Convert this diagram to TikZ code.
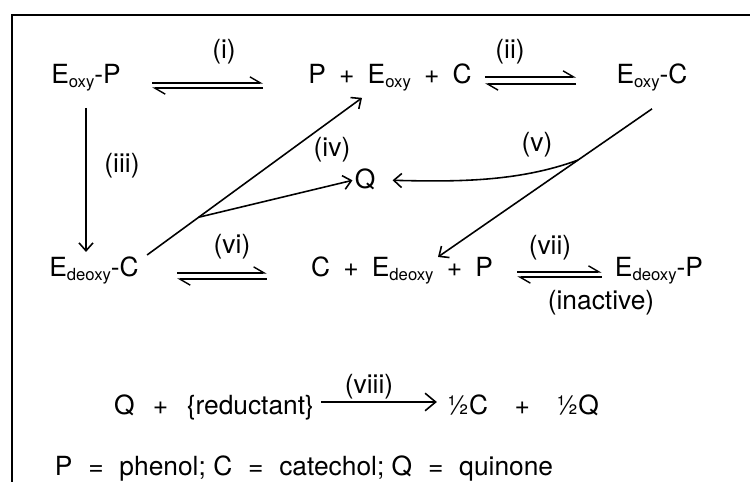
\documentclass[tikz,border=0pt]{standalone}
\usepackage{fontspec}
\setmainfont{TeX Gyre Heros}
\usetikzlibrary{arrows.meta,calc}
\newcommand{\sbs}[1]{\raisebox{-2.2pt}{\fontsize{9.5}{10}\selectfont #1}}
\newcommand{\pls}{\hspace{0.5em}+\hspace{0.5em}}
\newcommand{\wpl}{\hspace{0.7em}+\hspace{0.7em}}
\newcommand{\eqs}{\hspace{0.6em}=\hspace{0.6em}}

\begin{document}
\begin{tikzpicture}[x=0.02cm, y=-0.02cm,
    font=\fontsize{15}{18}\selectfont,
    sp/.style={inner sep=0pt, anchor=base},
    lbl/.style={inner sep=0pt},
    arr/.style={line width=0.9pt, -{Straight Barb[length=4.5pt,width=8pt]}},
    big/.style={line width=0.9pt, -{Straight Barb[length=6pt,width=10pt]}},
    fwd/.style={line width=0.8pt, -{Straight Barb[left,length=6pt,width=7pt]}}]
  \useasboundingbox (0,0) rectangle (750,482);
  \draw[line width=1.5pt] (12,482) -- (12,15) -- (750,15);
  % species
  \node[sp] (EoxyP)   at ( 86, 84) {E\sbs{oxy}-P};
  \node[sp] (PEC)     at (390, 84) {P\pls E\sbs{oxy}\pls C};
  \node[sp] (EoxyC)   at (652, 84) {E\sbs{oxy}-C};
  \node[sp] (Q)       at (365,189) {Q};
  \node[sp] (EdeoxyC) at ( 94,277) {E\sbs{deoxy}-C};
  \node[sp] (CEP)     at (402,277) {C\pls E\sbs{deoxy}\pls P};
  \node[sp] (EdeoxyP) at (659,277) {E\sbs{deoxy}-P};
  \node[sp] (inact)   at (601,310) {(inactive)};
  \node[sp] (red)     at (214,415) {Q\wpl\{reductant\}};
  \node[sp] (half)    at (523,415) {½C\hspace{1em}+\hspace{1em}½Q};
  \node[sp] (key)     at (304,475) {P\eqs phenol; C\eqs catechol; Q\eqs quinone};
  % step labels
  \node[lbl] (li)    at (224, 52) {(i)};
  \node[lbl] (lii)   at (510, 52) {(ii)};
  \node[lbl] (liii)  at (122,166) {(iii)};
  \node[lbl] (liv)   at (332,150) {(iv)};
  \node[lbl] (lv)    at (537,145) {(v)};
  \node[lbl] (lvi)   at (232,247) {(vi)};
  \node[lbl] (lvii)  at (550,248) {(vii)};
  \node[lbl] (lviii) at (369,387) {(viii)};
  % equilibria
  \draw[fwd, shorten <=0.62cm, shorten >=0.9cm] ([yshift=0.02cm]EoxyP.base east) -- ([yshift=0.02cm]PEC.base west);
  \draw[fwd, shorten <=0.9cm, shorten >=0.62cm] ([yshift=-0.08cm]PEC.base west) -- ([yshift=-0.08cm]EoxyP.base east);
  \draw[fwd, shorten <=0.26cm, shorten >=0.8cm] ([yshift=0.14cm]PEC.base east) -- ([yshift=0.14cm]EoxyC.base west);
  \draw[fwd, shorten <=0.8cm, shorten >=0.26cm] (EoxyC.base west) -- (PEC.base east);
  \draw[fwd, shorten <=0.76cm, shorten >=0.88cm] ([yshift=0.08cm]EdeoxyC.base east) -- ([yshift=0.08cm]CEP.base west);
  \draw[fwd, shorten <=0.88cm, shorten >=0.76cm] ([yshift=-0.04cm]CEP.base west) -- ([yshift=-0.04cm]EdeoxyC.base east);
  \draw[fwd, shorten <=0.48cm, shorten >=0.26cm] ([yshift=0.1cm]CEP.base east) -- ([yshift=0.1cm]EdeoxyP.base west);
  \draw[fwd, shorten <=0.26cm, shorten >=0.48cm] (EdeoxyP.base west) -- (CEP.base east);
  % one-way steps
  \draw[arr, shorten <=0.32cm, shorten >=0.1cm] (EoxyP.south) -- (EoxyP.south |- EdeoxyC.north);
  \draw[arr] ([shift={(8,-2)}]EdeoxyC.north east) coordinate (s4) -- ([shift={(-28,6)}]PEC.south) coordinate (e4);
  \draw[arr, shorten >=0.04cm] ($(s4)!0.24!(e4)$) -- (Q.west);
  \draw[arr] ([shift={(0,17)}]EoxyC.south) coordinate (s5) -- ([shift={(36,0)}]CEP.north) coordinate (e5);
  \draw[arr, shorten >=0.34cm] ($(s5)!0.346!(e5)$) .. controls +(-60,22) and +(80,2) .. (Q.east);
  \draw[big, shorten <=0.14cm, shorten >=0.2cm] ([yshift=0.26cm]red.base east) -- ([yshift=0.26cm]half.base west);
\end{tikzpicture}
\end{document}
